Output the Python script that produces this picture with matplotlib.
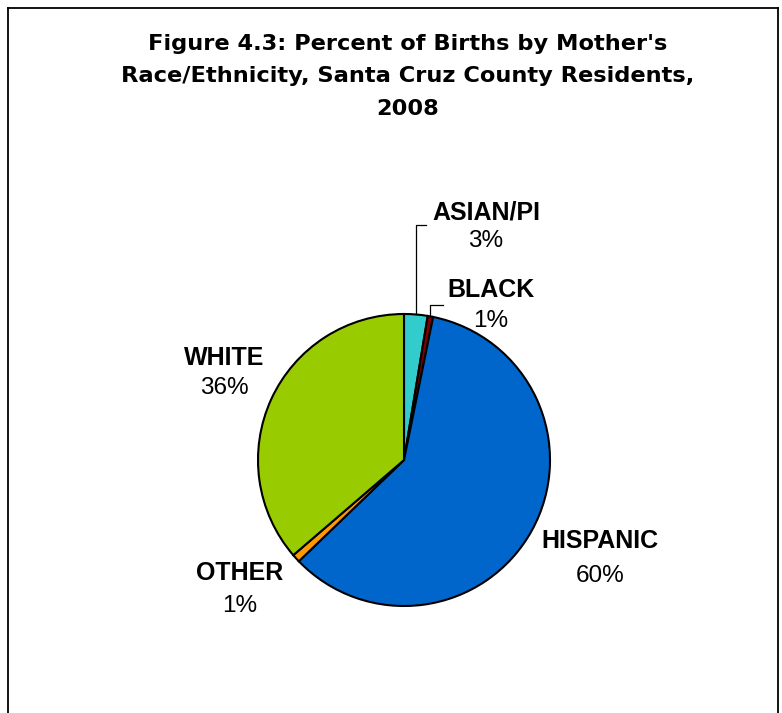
import numpy as np
import matplotlib
matplotlib.use("Agg")
import matplotlib.pyplot as plt
from matplotlib.lines import Line2D

categories = ["ASIAN/PI", "BLACK", "HISPANIC", "OTHER", "WHITE"]
values = [2.6, 0.6, 59.6, 0.9, 36.3]
colors = ["#33CCCC", "#800000", "#0066CC", "#FF9900", "#99CC00"]
title_lines = ["Figure 4.3: Percent of Births by Mother's",
               "Race/Ethnicity, Santa Cruz County Residents,",
               "2008"]

W, H = 782, 713
plt.rcParams['font.family'] = ['Liberation Sans', 'DejaVu Sans']
fig = plt.figure(figsize=(W / 100, H / 100), dpi=100)
ax = fig.add_axes([0, 0, 1, 1])

def py(y):
    return H - y

cx, cy, r = 404, 460, 146
wedges, _ = ax.pie(values, colors=colors, startangle=90, counterclock=False,
                   center=(cx, py(cy)), radius=r, frame=True,
                   wedgeprops=dict(edgecolor='black', linewidth=1.5))
ax.set_xlim(0, W)
ax.set_ylim(0, H)
ax.set_aspect('equal')
ax.axis('off')

# title
for i, t in enumerate(title_lines):
    ax.text(408, py(44 + i * 32.5), t, ha='center', va='center',
            fontsize=16.2, fontweight='bold', family=['DejaVu Sans'])

label_pos = {
    "ASIAN/PI": (486, 212, 241),
    "BLACK": (491, 290, 321),
    "HISPANIC": (600, 541, 576),
    "OTHER": (240, 573, 606),
    "WHITE": (224, 358, 388),
}
total = sum(values)
for cat, v in zip(categories, values):
    x, y1, y2 = label_pos[cat]
    ax.text(x, py(y1), cat, ha='center', va='center', fontsize=18, fontweight='bold')
    ax.text(x, py(y2), f"{round(v / total * 100):d}%", ha='center', va='center', fontsize=17.5)

# leader lines for small top slices
leaders = {"ASIAN/PI": (225, 426), "BLACK": (305, 443)}
for w, cat in zip(wedges, categories):
    if cat in leaders:
        mid = np.deg2rad((w.theta1 + w.theta2) / 2)
        ex = cx + r * np.cos(mid)
        ey = py(cy) + r * np.sin(mid)
        ly, lx = leaders[cat]
        ax.plot([ex, ex, lx], [ey, py(ly), py(ly)], color='black', linewidth=0.9)

# frame
for xs, ys in [([8, 8], [8, 720]), ([8, 778], [8, 8]), ([778, 778], [8, 720])]:
    fig.add_artist(Line2D([x / W for x in xs], [1 - y / H for y in ys],
                          color='black', linewidth=1.3, transform=fig.transFigure))

fig.savefig("out.png", dpi=100)
